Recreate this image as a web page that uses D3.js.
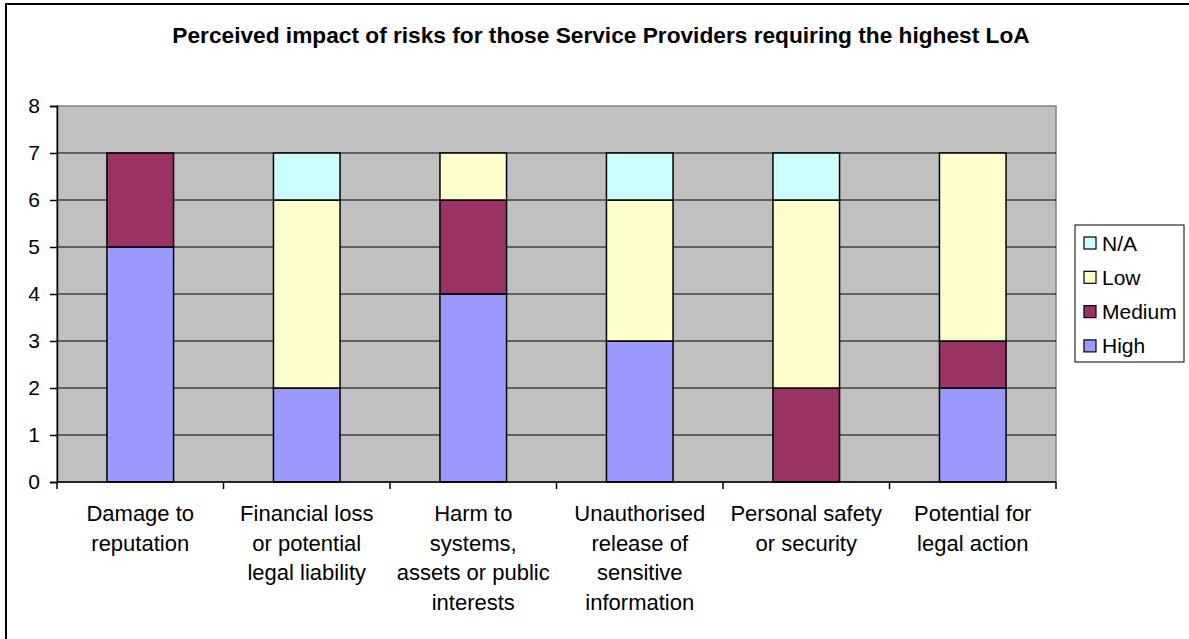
<!DOCTYPE html>
<html>
<head>
<meta charset="utf-8">
<script src="https://cdn.jsdelivr.net/npm/d3@7/dist/d3.min.js"></script>
<style>
  html, body { margin: 0; padding: 0; background: #fff; }
  svg { display: block; font-family: "Liberation Sans", Arial, sans-serif; }
</style>
</head>
<body>
<svg id="chart" width="1189" height="639"></svg>
<script>
// Risk categories (each label split into its display lines)
const categories = [
  ["Damage to", "reputation"],
  ["Financial loss", "or potential", "legal liability"],
  ["Harm to", "systems,", "assets or public", "interests"],
  ["Unauthorised", "release of", "sensitive", "information"],
  ["Personal safety", "or security"],
  ["Potential for", "legal action"]
];

// Number of Service Providers per impact level
const high   = [5, 2, 4, 3, 0, 2];
const medium = [2, 0, 2, 0, 2, 1];
const low    = [0, 4, 1, 3, 4, 4];
const na     = [0, 1, 0, 1, 1, 0];

const seriesNames = ["High", "Medium", "Low", "N/A"];
const seriesColors = ["#9999FF", "#993366", "#FFFFCC", "#CCFFFF"];
const yTicks = [0, 1, 2, 3, 4, 5, 6, 7, 8];

const title = "Perceived impact of risks for those Service Providers requiring the highest LoA";

const svg = d3.select("#chart");
const W = 1189, H = 639;

// Outer chart frame
svg.append("rect")
  .attr("x", 6).attr("y", 4)
  .attr("width", W + 20).attr("height", H + 20)
  .attr("fill", "none").attr("stroke", "#000").attr("stroke-width", 2);

const plot = { left: 57, right: 1056, top: 106, bottom: 482 };

const band = d3.scaleBand()
  .domain(d3.range(categories.length))
  .range([plot.left, plot.right]);

const y = d3.scaleLinear().domain([0, 8]).range([plot.bottom, plot.top]);

// Plot background
svg.append("rect")
  .attr("x", plot.left).attr("y", plot.top)
  .attr("width", plot.right - plot.left).attr("height", plot.bottom - plot.top)
  .attr("fill", "#C0C0C0").attr("stroke", "#808080").attr("stroke-width", 1.5);

// Horizontal gridlines
svg.append("g")
  .selectAll("line")
  .data(yTicks.filter(t => t > 0 && t < 8))
  .join("line")
  .attr("x1", plot.left).attr("x2", plot.right)
  .attr("y1", d => y(d)).attr("y2", d => y(d))
  .attr("stroke", "#000").attr("stroke-width", 1);

// Stacked bars
const rows = categories.map((c, i) => ({ i, High: high[i], Medium: medium[i], Low: low[i], "N/A": na[i] }));
const stacked = d3.stack().keys(seriesNames)(rows);
const barW = band.bandwidth() / 2.5;

svg.append("g")
  .selectAll("g")
  .data(stacked)
  .join("g")
  .attr("fill", (d, k) => seriesColors[k])
  .selectAll("rect")
  .data(d => d.filter(s => s[1] - s[0] > 0))
  .join("rect")
  .attr("x", d => band(d.data.i) + (band.bandwidth() - barW) / 2)
  .attr("width", barW)
  .attr("y", d => y(d[1]))
  .attr("height", d => y(d[0]) - y(d[1]))
  .attr("stroke", "#000").attr("stroke-width", 1.5);

// Y axis
const yAxis = svg.append("g")
  .attr("transform", `translate(${plot.left},0)`)
  .call(d3.axisLeft(y).tickValues(yTicks).tickSize(7).tickPadding(10).tickFormat(d3.format("d")));
yAxis.select(".domain").attr("stroke", "#000").attr("stroke-width", 1.5);
yAxis.selectAll(".tick line").attr("stroke", "#000").attr("stroke-width", 1.5);
yAxis.selectAll("text").attr("font-size", 21).attr("fill", "#000")
  .attr("font-family", "Liberation Sans, Arial, sans-serif");

// X axis with ticks on category boundaries
const boundaries = d3.range(categories.length + 1).map(i => plot.left + i * band.step());
svg.append("line")
  .attr("x1", plot.left).attr("x2", plot.right)
  .attr("y1", plot.bottom).attr("y2", plot.bottom)
  .attr("stroke", "#000").attr("stroke-width", 1.5);
svg.append("g")
  .selectAll("line")
  .data(boundaries)
  .join("line")
  .attr("x1", d => d).attr("x2", d => d)
  .attr("y1", plot.bottom).attr("y2", plot.bottom + 7)
  .attr("stroke", "#000").attr("stroke-width", 1.5);

// Category labels
const labels = svg.append("g")
  .attr("font-size", 22).attr("fill", "#000").attr("text-anchor", "middle");
categories.forEach((lines, i) => {
  const cx = band(i) + band.bandwidth() / 2;
  const t = labels.append("text").attr("x", cx).attr("y", 521);
  lines.forEach((ln, j) => {
    t.append("tspan")
      .attr("x", cx)
      .attr("dy", j === 0 ? 0 : 29.5)
      .text(ln);
  });
});

// Title
svg.append("text")
  .attr("x", 601).attr("y", 43)
  .attr("text-anchor", "middle")
  .attr("font-size", 22.7).attr("font-weight", "bold")
  .text(title);

// Legend (reverse stacking order)
const legend = svg.append("g");
legend.append("rect")
  .attr("x", 1075).attr("y", 225).attr("width", 109).attr("height", 137)
  .attr("fill", "#fff").attr("stroke", "#000").attr("stroke-width", 1);
const legendItems = seriesNames.map((n, k) => ({ n, c: seriesColors[k] })).reverse();
const items = legend.selectAll("g.item")
  .data(legendItems)
  .join("g")
  .attr("class", "item")
  .attr("transform", (d, k) => `translate(1084,${243 + k * 34.3})`);
items.append("rect")
  .attr("x", 0).attr("y", -6).attr("width", 12).attr("height", 12)
  .attr("fill", d => d.c).attr("stroke", "#000").attr("stroke-width", 1.2);
items.append("text")
  .attr("x", 18).attr("y", 7.5)
  .attr("font-size", 21).attr("fill", "#000")
  .text(d => d.n);
</script>
</body>
</html>
